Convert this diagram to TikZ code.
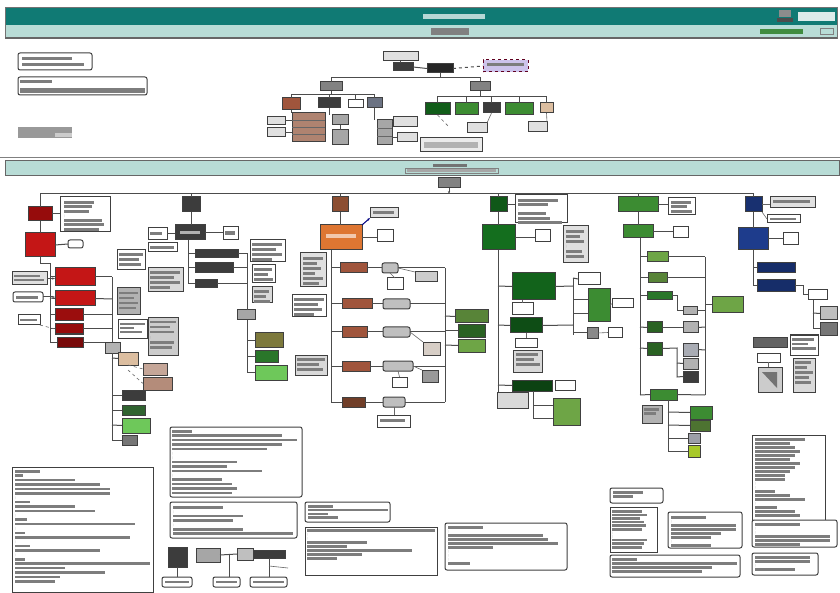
\documentclass[tikz,border=0pt]{standalone}
\usetikzlibrary{arrows.meta}
\definecolor{tealA}{RGB}{16,122,116}
\definecolor{tealB}{RGB}{184,220,214}
\definecolor{redA}{RGB}{196,22,22}
\definecolor{redB}{RGB}{150,12,12}
\definecolor{orangeA}{RGB}{222,118,50}
\definecolor{brownA}{RGB}{140,78,50}
\definecolor{brownB}{RGB}{160,85,60}
\definecolor{greenA}{RGB}{20,110,30}
\definecolor{greenB}{RGB}{60,140,50}
\definecolor{greenC}{RGB}{110,165,70}
\definecolor{greenL}{RGB}{110,200,90}
\definecolor{blueA}{RGB}{30,60,140}
\definecolor{purpA}{RGB}{205,195,235}
\definecolor{beigeA}{RGB}{220,190,160}
\definecolor{darkA}{RGB}{60,60,60}
\definecolor{grayA}{RGB}{130,130,130}
\definecolor{txtc}{RGB}{125,125,125}
\tikzset{
 bx/.style={draw=black!75, line width=1pt, fill=white, inner sep=0pt, outer sep=0pt, anchor=north west, rectangle},
 ln/.style={draw=black!70, line width=1pt},
 thin ln/.style={draw=black!60, line width=0.6pt},
 txt/.style={fill=txtc},
 rd/.style={rounded corners=2pt},
 gbox/.style={fill=black!45},
 lbox/.style={fill=black!12},
}
\newcommand\B[6]{\node[bx,#6,minimum width={(#4-(#2))*1pt},minimum height={(#5-(#3))*1pt}] (#1) at (#2,#3) {};}
\newcommand\Ls[5]{\foreach \w [count=\i from 0] in {#5}{\fill[txt] (#1,{#2+\i*#3}) rectangle ++(\w,#4);}}
\begin{document}
\begin{tikzpicture}[x=1pt,y=-1pt]
\useasboundingbox (0,0) rectangle (840,593);
\fill[white] (0,0) rectangle (840,593);
% ---------- header ----------
\fill[tealA] (5,7) rectangle (837,25);
\fill[tealB] (5,25) rectangle (837,38);
\draw[black!55,line width=0.8pt] (5,7) rectangle (837,38);
\draw[black!60,line width=1.3pt] (5,38) -- (837,38);
\fill[white!70!tealA] (423,14) rectangle (485,19);
\fill[black!45] (779,10) rectangle (791,17);
\fill[black!70] (777,18) rectangle (793,22);
\fill[white!85!tealA] (798,12) rectangle (835,21);
\fill[black!50] (431,28) rectangle (469,35);
\fill[green!40!black!75] (760,29) rectangle (803,34);
\draw[black!50] (820,28) rectangle (833,34);
% ---------- top-left notes ----------
\B{tla}{18}{53}{92}{70}{rd}
\Ls{22}{57}{6}{3}{50,62}
\B{tlb}{18}{77}{147}{95}{rd}
\fill[txtc] (20,80) rectangle (52,83);
\fill[txtc] (20,88) rectangle (145,93);
\fill[black!40] (18,127) rectangle (72,138);
\fill[black!20] (55,133) rectangle (72,137);
% ---------- top tree ----------
\B{t0}{383}{52}{418}{61}{lbox}
\B{t1}{393}{63}{413}{71}{fill=darkA}
\B{t2}{427}{64}{453}{73}{fill=black!85}
\B{t3}{483}{60}{528}{72}{fill=purpA,dashed,draw=purple!50!black}
\fill[txtc] (487,63) rectangle (524,66);
\draw[ln] (t0.south) -- (t0.south |- t1.north);
\draw[ln] (t1.east) -- (t2.west);
\draw[ln,dashed] (t2.east) -- (t3.west);
\coordinate (th) at (0,78);
\B{tA}{320}{82}{342}{91}{fill=grayA}
\B{tB}{470}{82}{490}{91}{fill=grayA}
\draw[ln] (t2.south) -- (t2.south |- th);
\draw[ln] (tA.north) -- (tA.north |- th) -- (tB.north |- th) -- (tB.north);
\B{tC}{282}{98}{300}{110}{fill=brownB}
\B{tD}{318}{98}{340}{108}{fill=darkA}
\B{tE}{348}{100}{363}{108}{}
\B{tF}{367}{98}{382}{108}{fill=blueA!35!black!60}
\coordinate (tl) at (0,95);
\draw[ln] (tC.north) -- (tC.north |- tl) -- (tF.north |- tl) -- (tF.north);
\draw[ln] (tA.south) -- (tA.south |- tl);
\draw[ln] (tD.north) -- (tD.north |- tl);
\draw[ln] (tE.north) -- (tE.north |- tl);
\B{tG}{267}{117}{285}{125}{lbox}
\B{tH}{267}{128}{285}{137}{lbox}
\B{tI}{292}{113}{325}{142}{fill=brownA!70}
\draw[black!60] (292,120) -- (325,120) (292,127) -- (325,127) (292,134) -- (325,134);
\B{tJ}{332}{115}{348}{125}{fill=black!35}
\B{tK}{332}{130}{348}{145}{fill=black!35}
\B{tL}{377}{120}{392}{145}{fill=black!35}
\draw[black!60] (377,128) -- (392,128) (377,136) -- (392,136);
\B{tM}{393}{117}{417}{127}{lbox}
\B{tN}{397}{133}{417}{142}{lbox}
\draw[ln] (tC.south) -- (tC.south |- tI.north);
\draw[ln] (tG.east) -- (tI.west |- tG.east);
\draw[ln] (tH.east) -- (tI.west |- tH.east);
\draw[ln] (tD.south) -- (tD.south |- tJ.north);
\draw[ln] (tJ.south) -- (tK.north);
\draw[ln] (tF.south) -- (tF.south |- tL.north);
\draw[ln] (tL.east |- tM.west) -- (tM.west);
\draw[ln] (tL.east |- tN.west) -- (tN.west);
% right subtree
\B{tO}{425}{103}{450}{115}{fill=greenA!85!black}
\B{tP}{455}{103}{478}{115}{fill=greenB}
\B{tQ}{483}{103}{500}{113}{fill=darkA}
\B{tR}{505}{103}{533}{115}{fill=greenB}
\B{tS}{540}{103}{553}{113}{fill=beigeA}
\coordinate (tr) at (0,97);
\draw[ln] (tO.north) -- (tO.north |- tr) -- (tS.north |- tr) -- (tS.north);
\draw[ln] (tB.south) -- (tB.south |- tr);
\draw[ln] (tP.north) -- (tP.north |- tr);
\draw[ln] (tQ.north) -- (tQ.north |- tr);
\draw[ln] (tR.north) -- (tR.north |- tr);
\B{tT}{467}{123}{487}{133}{lbox}
\B{tU}{528}{122}{547}{132}{lbox}
\B{tV}{420}{138}{482}{152}{fill=black!8}
\fill[black!30] (424,142) rectangle (478,148);
\coordinate (tw) at (449,127);
\draw[thin ln,dashed] (tO.south) -- (tw);
\draw[thin ln] (tQ.south) -- (tT.north east);
\draw[thin ln] (tS.south) -- (tU.north east);
% ---------- middle band ----------
\draw[black!50,line width=0.8pt] (0,157) -- (840,157);
\fill[tealB] (5,161) rectangle (839,176);
\draw[black!60,line width=1pt] (5,161) rectangle (839,176);
\fill[black!55] (433,164) rectangle (467,167);
\draw[black!50] (405,168) rectangle (498,173);
\fill[black!35] (407,169) rectangle (496,172);
\B{root}{438}{178}{460}{188}{fill=grayA}
\coordinate (ml) at (0,194);
\draw[ln,-{Stealth[length=3pt]}] (root.south) -- (root.south |- ml);
% ---------- column 1 (red) ----------
\B{c1a}{28}{207}{52}{221}{fill=redB}
\B{c1n}{60}{197}{110}{232}{}
\Ls{64}{201}{4.5}{2.6}{30,28,25,0,38,40,35}
\B{c1b}{25}{233}{55}{257}{fill=redA}
\B{c1s}{68}{240}{83}{248}{rd}
\draw[ln] (c1a.east) -- (c1n.west |- c1a.east);
\draw[ln] (c1a.south) -- (c1b.north);
\draw[ln] (c1b.east) -- (c1s.west);
\B{c1c}{55}{268}{95}{286}{fill=redA}
\B{c1d}{55}{291}{95}{306}{fill=redA}
\B{c1e}{55}{309}{83}{321}{fill=redB!90!redA}
\B{c1f}{55}{324}{83}{334}{fill=redB}
\B{c1g}{57}{337}{83}{347}{fill=redB!80!black}
\draw[ln] (c1b.south) -- (40,264) -- (50,264) -- (50,342) -- (c1g.west);
\draw[ln] (50,277) -- (c1c.west);
\draw[ln] (50,298) -- (c1d.west);
\draw[ln] (50,315) -- (c1e.west);
\draw[ln] (50,329) -- (c1f.west);
\B{c1h}{12}{272}{47}{285}{lbox}
\Ls{14}{275}{4}{2.5}{26,30}
\B{c1i}{13}{292}{43}{302}{rd}
\fill[txtc] (16,296) rectangle (38,299);
\B{c1j}{18}{315}{40}{325}{}
\fill[txtc] (20,319) rectangle (37,321);
\draw[ln,-{Stealth[length=3pt]}] (c1h.east) -- (c1c.west |- c1h.east);
\draw[ln,-{Stealth[length=3pt]}] (c1i.east) -- (c1d.west |- c1i.east);
\draw[thin ln,dashed] (c1j.south east) -- (c1f.west);
\draw[ln] (c1c.east) -- (112,277);
\draw[ln] (c1d.east) -- (112,299);
\draw[ln] (c1e.east) -- (112,315);
\draw[ln] (c1f.east) -- (112,329);
\draw[ln] (c1g.east) -- (112,342);
\draw[ln] (112,277) -- (112,342);
\B{c1k}{105}{342}{120}{353}{fill=black!30}
\B{c1l}{117}{288}{140}{315}{fill=black!30}
\Ls{119}{292}{5}{2.5}{19,15,19,17}
\B{c1m}{118}{320}{147}{338}{}
\Ls{120}{323}{4}{2.5}{25,14,22}
\B{c1o}{148}{318}{178}{355}{fill=black!20}
\Ls{150}{321}{5}{2.5}{26,20,24,0,24,22}
\B{c1q}{118}{352}{138}{365}{fill=beigeA}
\B{c1r}{143}{363}{167}{375}{fill=brownA!50}
\B{c1u1}{143}{377}{172}{390}{fill=brownA!65}
\B{c1t}{122}{390}{145}{400}{fill=darkA}
\B{c1u}{122}{405}{145}{415}{fill=darkA!80!green}
\B{c1v}{122}{418}{150}{433}{fill=greenL}
\B{c1w}{122}{435}{137}{445}{fill=darkA!70}
\draw[ln] (c1k.south -| 112,0) -- (112,440);
\draw[ln] (112,358) -- (c1q.west);
\draw[ln] (112,395) -- (c1t.west);
\draw[ln] (112,410) -- (c1u.west);
\draw[ln] (112,425) -- (c1v.west);
\draw[ln] (112,440) -- (c1w.west);
\draw[thin ln,dashed] (c1q.south) -- (c1r.west);
\draw[thin ln,dashed] (128,370) -- (c1u1.west);
% ---------- column 2 (gray) ----------
\B{c2a}{182}{197}{200}{212}{fill=darkA}
\B{c2b}{175}{225}{205}{240}{fill=darkA}
\fill[black!30] (180,231) rectangle (200,234);
\B{c2n1}{148}{228}{167}{240}{}
\fill[txtc] (150,232) rectangle (162,235);
\B{c2n2}{223}{227}{238}{240}{}
\fill[txtc] (225,231) rectangle (235,235);
\draw[ln] (c2a.south) -- (c2a.south |- c2b.north);
\draw[ln] (c2n1.east) -- (c2b.west |- c2n1.east);
\draw[ln] (c2b.east) -- (c2n2.west |- c2b.east);
\B{c2c}{148}{243}{177}{252}{}
\fill[txtc] (150,246) rectangle (174,249);
\B{c2d}{117}{250}{145}{270}{}
\Ls{119}{253}{5}{2.6}{24,20,22}
\B{c2e}{148}{268}{183}{292}{fill=black!15}
\Ls{150}{271}{5}{2.6}{30,24,30,20}
\B{c2f}{195}{250}{238}{258}{fill=darkA}
\B{c2g}{195}{263}{233}{273}{fill=darkA}
\B{c2h}{195}{280}{217}{288}{fill=darkA}
\draw[ln] (188,240) -- (188,284) -- (c2h.west);
\draw[ln] (188,254) -- (c2f.west);
\draw[ln] (188,268) -- (c2g.west);
\B{c2j}{250}{240}{285}{262}{}
\Ls{252}{243}{5}{2.6}{30,24,30,20}
\B{c2k}{252}{265}{275}{283}{}
\Ls{254}{268}{5}{2.6}{18,14,19}
\B{c2l}{252}{287}{272}{303}{fill=black!15}
\Ls{254}{290}{5}{2.6}{15,12,16}
\B{c2i}{237}{310}{255}{320}{fill=black!35}
\draw[ln] (c2f.east) -- (247,254) -- (c2i.north -| 247,0);
\draw[ln] (c2g.east) -- (247,268);
\draw[ln] (c2h.east) -- (247,284);
\B{c2m}{255}{333}{283}{347}{fill=greenC!50!brownA}
\B{c2o}{255}{350}{278}{362}{fill=darkA!70!green}
\B{c2p}{255}{365}{287}{380}{fill=greenL}
\draw[ln] (c2i.south -| 247,0) -- (247,372) -- (c2p.west |- 0,372);
\draw[ln] (247,340) -- (c2m.west);
\draw[ln] (247,356) -- (c2o.west);
% ---------- column 3 (orange) ----------
\B{c3a}{332}{197}{348}{212}{fill=brownA}
\B{c3b}{320}{225}{362}{250}{fill=orangeA}
\fill[white!60!orangeA] (326,234) rectangle (356,238);
\draw[ln] (c3a.south) -- (c3a.south |- c3b.north);
\B{c3n}{370}{208}{398}{218}{lbox}
\fill[txtc] (373,211) rectangle (394,214);
\draw[ln,-{Stealth[length=3pt]},blue!50!black] (c3b.north east) -- (c3n.south west);
\B{c3s}{377}{230}{393}{242}{}
\draw[ln] (c3b.east) -- (c3s.west |- c3b.east);
\B{c3g1}{300}{253}{326}{287}{fill=black!12}
\Ls{303}{257}{5}{2.6}{20,14,18,12,20,16}
\B{c3g2}{292}{295}{326}{317}{}
\Ls{294}{298}{5}{2.6}{30,24,28,20}
\B{c3g3}{295}{355}{327}{375}{fill=black!15}
\Ls{297}{358}{5}{2.6}{28,22,26}
\draw[ln] (331,250) -- (331,402);
\foreach \yy/\na/\nb/\xa/\xb/\xc/\xd/\ca in {268/c3c/c3d/340/367/382/398/brownB, 304/c3h/c3i/342/372/383/410/brownB, 332/c3j/c3k/342/367/383/410/brownB, 366/c3m/c3o/342/370/383/413/brownB, 402/c3r/c3s2/342/365/383/405/brownA!80!black}{
  \B{\na}{\xa}{\yy-5}{\xb}{\yy+5}{fill=\ca}
  \B{\nb}{\xc}{\yy-5}{\xd}{\yy+5}{fill=black!25,rd}
  \draw[ln] (331,\yy) -- (\na.west);
  \draw[ln] (\na.east) -- (\nb.west);
  \draw[ln] (\nb.east) -- (445,\yy);
}
\draw[ln] (445,268) -- (445,402);
\B{c3e}{415}{272}{437}{282}{fill=black!20}
\B{c3f}{387}{278}{403}{290}{}
\B{c3l}{423}{342}{440}{355}{fill=beigeA!70!black!40}
\B{c3p}{392}{377}{407}{387}{}
\B{c3q}{422}{370}{438}{382}{fill=black!40}
\B{c3t}{377}{415}{410}{427}{}
\fill[txtc] (380,419) rectangle (405,422);
\draw[thin ln] (c3d.east) -- (c3e.north west);
\draw[thin ln] (c3f.north) -- (c3d.south);
\draw[thin ln] (c3k.east) -- (c3l.north west);
\draw[thin ln] (c3o.east) -- (c3q.north west);
\draw[thin ln] (c3p.north) -- (c3o.south);
\draw[thin ln] (c3s2.south) -- (c3t.north -| c3s2.south);
\B{c3u}{455}{310}{488}{323}{fill=greenC!80!black}
\B{c3v}{458}{325}{485}{337}{fill=greenB!70!black}
\B{c3w}{458}{339}{485}{352}{fill=greenC}
\draw[ln] (445,316) -- (c3u.west);
\draw[ln] (445,331) -- (c3v.west);
\draw[ln] (445,345) -- (c3w.west);
% ---------- column 4 (green) ----------
\B{c4a}{490}{197}{507}{212}{fill=greenA!80!black}
\B{c4n}{515}{195}{567}{223}{}
\Ls{518}{199}{4.5}{2.6}{40,30,0,28,32,44}
\draw[ln] (c4a.east) -- (c4n.west |- c4a.east);
\B{c4b}{482}{225}{515}{250}{fill=greenA}
\draw[ln] (c4a.south) -- (c4a.south |- c4b.north);
\B{c4s}{535}{230}{550}{242}{}
\draw[ln] (c4b.east) -- (c4s.west |- c4b.east);
\B{c4g}{563}{226}{588}{263}{fill=black!12}
\Ls{566}{230}{5}{2.6}{18,14,18,0,16,18}
\draw[ln] (498,250) -- (498,395);
\B{c4c}{512}{273}{555}{300}{fill=greenA!90!black}
\B{c4cn}{512}{303}{533}{315}{}
\B{c4d}{510}{318}{542}{333}{fill=greenA!70!black}
\B{c4dn}{515}{338}{537}{347}{}
\B{c4dg}{513}{350}{542}{372}{fill=black!15}
\Ls{516}{353}{5}{2.6}{22,18,24}
\B{c4e}{512}{380}{552}{391}{fill=greenA!60!black}
\B{c4en}{555}{380}{575}{390}{}
\B{c4f}{497}{392}{528}{408}{fill=black!15}
\B{c4h}{553}{398}{580}{425}{fill=greenC}
\draw[ln] (498,286) -- (c4c.west);
\draw[ln] (498,325) -- (c4d.west);
\draw[ln] (498,385) -- (c4e.west);
\draw[thin ln] (c4c.south -| c4cn.north) -- (c4cn.north);
\draw[thin ln] (c4d.south -| c4dn.north) -- (c4dn.north);
\draw[ln] (533,391) -- (533,418) -- (c4h.west |- 0,418);
\draw[ln] (533,405) -- (c4h.west |- 0,405);
\draw[ln] (c4c.east) -- (573,286);
\draw[ln] (c4d.east) -- (573,325);
\draw[ln] (573,278) -- (573,335);
\B{c4j}{578}{273}{600}{285}{}
\B{c4k}{588}{289}{610}{322}{fill=greenB}
\B{c4l}{587}{328}{598}{338}{fill=darkA!60}
\B{c4m}{608}{328}{622}{337}{}
\B{c4o}{612}{299}{633}{308}{}
\draw[ln] (573,278) -- (c4j.west);
\draw[ln] (573,300) -- (c4k.west |- 0,300);
\draw[ln] (573,314) -- (c4k.west |- 0,314);
\draw[ln] (573,333) -- (c4l.west);
\draw[thin ln] (c4k.east) -- (c4o.west);
\draw[thin ln] (c4l.east) -- (c4m.west);
% ---------- column 5 (light green) ----------
\B{c5a}{618}{197}{658}{212}{fill=greenB}
\B{c5n}{668}{198}{695}{215}{}
\Ls{671}{201}{4.5}{2.6}{20,16,21}
\draw[ln] (c5a.east) -- (c5n.west |- c5a.east);
\B{c5b}{623}{225}{653}{238}{fill=greenB}
\draw[ln] (c5a.south) -- (c5a.south |- c5b.north);
\B{c5s}{673}{227}{688}{238}{}
\draw[ln] (c5b.east) -- (c5s.west |- c5b.east);
\draw[ln] (640,238) -- (640,395);
\B{c5c}{647}{252}{668}{262}{fill=greenC}
\B{c5d}{648}{273}{667}{283}{fill=greenC!80!black}
\B{c5e}{647}{292}{672}{300}{fill=darkA!70!green}
\B{c5f}{647}{322}{662}{333}{fill=greenB!70!black}
\B{c5g}{647}{342}{662}{355}{fill=greenB!70!black}
\draw[ln] (640,257) -- (c5c.west);
\draw[ln] (640,278) -- (c5d.west);
\draw[ln] (640,296) -- (c5e.west);
\draw[ln] (640,327) -- (c5f.west);
\draw[ln] (640,348) -- (c5g.west);
\draw[ln] (c5c.east) -- (705,257);
\draw[ln] (c5d.east) -- (705,278);
\draw[ln] (705,257) -- (705,395);
\B{c5h}{683}{307}{697}{315}{fill=black!30}
\draw[ln] (c5e.east) -- (677,296) -- (677,311) -- (c5h.west);
\draw[ln] (c5h.east) -- (705,311);
\B{c5i}{712}{297}{743}{313}{fill=greenC}
\draw[ln] (705,305) -- (c5i.west |- 0,305);
\B{c5j}{683}{322}{698}{333}{fill=black!30}
\B{c5k}{683}{343}{698}{356}{fill=blueA!30!black!35}
\B{c5l}{683}{358}{698}{369}{fill=black!30}
\B{c5m}{683}{371}{698}{382}{fill=darkA}
\draw[ln] (c5f.east) -- (c5j.west |- c5f.east);
\draw[ln] (c5g.east) -- (677,348) -- (677,377) -- (c5m.west);
\draw[ln] (677,363) -- (c5l.west);
\draw[ln] (c5j.east) -- (705,327);
\draw[ln] (c5k.east) -- (705,350);
\B{c5o}{650}{389}{677}{400}{fill=greenB}
\draw[ln] (640,395) -- (c5o.west);
\draw[ln] (c5o.east) -- (705,395);
\B{c5p}{642}{405}{662}{423}{fill=black!30}
\Ls{644}{408}{4}{2.6}{15,12}
\draw[ln] (668,400) -- (668,451);
\B{c5q}{690}{406}{712}{419}{fill=greenB}
\B{c5r}{690}{420}{710}{431}{fill=greenC!70!black}
\B{c5t}{688}{433}{700}{443}{fill=blueA!25!black!40}
\B{c5u}{688}{445}{700}{457}{fill=greenC!60!yellow}
\draw[ln] (668,412) -- (c5q.west);
\draw[ln] (668,425) -- (c5r.west);
\draw[ln] (668,438) -- (c5t.west);
\draw[ln] (668,451) -- (c5u.west);
% ---------- column 6 (blue) ----------
\B{c6a}{745}{197}{762}{212}{fill=blueA!80!black}
\B{c6n}{770}{197}{815}{208}{lbox}
\fill[txtc] (773,200) rectangle (810,203);
\B{c6n2}{767}{215}{800}{223}{}
\fill[txtc] (770,218) rectangle (796,220);
\draw[thin ln] (c6a.east) -- (c6n.west |- c6a.east);
\draw[thin ln] (c6a.south east) -- (c6n2.west);
\B{c6b}{738}{228}{768}{250}{fill=blueA}
\draw[ln] (c6a.south) -- (c6a.south |- c6b.north);
\B{c6s}{783}{233}{798}{245}{}
\draw[ln] (c6b.east) -- (c6s.west |- c6b.east);
\B{c6c}{757}{263}{795}{273}{fill=blueA!75!black}
\B{c6d}{757}{280}{795}{292}{fill=blueA!75!black}
\draw[ln] (753,250) -- (753,286) -- (c6d.west);
\draw[ln] (753,268) -- (c6c.west);
\B{c6e}{808}{290}{827}{300}{}
\draw[ln] (c6d.east) -- (803,286) -- (803,295) -- (c6e.west);
\B{c6e1}{820}{307}{837}{320}{fill=black!25}
\B{c6e2}{820}{323}{837}{335}{fill=darkA!70}
\draw[ln] (813,300) -- (813,329) -- (c6e2.west);
\draw[ln] (813,313) -- (c6e1.west);
\B{c6f}{753}{337}{787}{347}{fill=darkA!80}
\B{c6g}{790}{335}{818}{355}{}
\Ls{792}{338}{4.5}{2.6}{22,16,24}
\B{c6h}{757}{353}{780}{362}{}
\B{c6i}{758}{367}{782}{392}{fill=black!20}
\B{c6j}{793}{358}{815}{392}{fill=black!15}
\Ls{795}{361}{5}{2.6}{16,12,18,14,16}
\draw[thin ln] (c6h.south) -- (c6i.north -| c6h.south);
\fill[black!55] (762,372) -- (777,372) -- (777,388) -- cycle;
% ---------- main bus ----------
\draw[ln] (c1a.north) -- (c1a.north |- ml) -- (c6a.north |- ml) -- (c6a.north);
\draw[ln] (c2a.north) -- (c2a.north |- ml);
\draw[ln] (c3a.north) -- (c3a.north |- ml);
\draw[ln] (c4a.north) -- (c4a.north |- ml);
\draw[ln] (c5a.north) -- (c5a.north |- ml);
% ---------- bottom notes ----------
\B{n1}{12}{467}{153}{592}{}
\Ls{15}{470}{4.4}{2.6}{25,8,60,85,95,95,0,15,60,80,0,12,120,0,10,115,0,15,85,0,10,135,50,90,45,40}
\B{n2}{170}{427}{302}{497}{rd}
\Ls{172}{430}{4.4}{2.6}{20,110,125,110,95,0,0,65,55,90,0,50,60,65,60}
\B{n3}{170}{502}{297}{538}{rd}
\Ls{173}{506}{4.4}{2.6}{50,0,70,60,0,70,120}
\B{n4}{305}{502}{390}{522}{rd}
\Ls{308}{505}{3.8}{2.6}{25,80,20,30}
\B{n5}{305}{527}{437}{575}{}
\Ls{307}{529}{4}{2.6}{128,0,0,60,40,105,55,30}
\B{n6}{445}{523}{567}{570}{rd}
\Ls{448}{526}{4}{2.6}{35,0,95,100,110,45,0,0,0,22}
% small diagram
\B{s1}{168}{547}{187}{567}{fill=darkA}
\B{s2}{196}{548}{220}{562}{fill=black!35}
\B{s3}{237}{548}{253}{560}{fill=black!25}
\B{s4}{253}{550}{285}{558}{fill=darkA}
\B{s5}{162}{577}{192}{587}{rd}
\B{s6}{213}{577}{240}{587}{rd}
\B{s7}{250}{577}{287}{587}{rd}
\fill[txtc] (165,581) rectangle (189,583);
\fill[txtc] (216,581) rectangle (237,583);
\fill[txtc] (253,581) rectangle (284,583);
\draw[ln] (s1.south) -- (s1.south |- s5.north);
\draw[ln] (s2.east) -- (s3.west);
\draw[ln] (229,555) -- (229,577);
\draw[ln] (s4.south) -- (s4.south |- s7.north);
\draw[thin ln] (269,566) -- (288,568);
% right bottom notes
\B{n7}{610}{488}{663}{503}{rd}
\Ls{613}{491}{4}{2.6}{30,20}
\B{n8}{610}{507}{657}{552}{}
\Ls{612}{510}{3.6}{2.6}{30,35,28,32,34,30,0,0,35,32,30}
\B{n9}{668}{512}{742}{548}{rd}
\Ls{671}{516}{4}{2.6}{35,0,65,65,50,40,0,40}
\B{n10}{610}{555}{740}{577}{rd}
\Ls{612}{558}{4}{2.6}{25,125,100,90}
\B{n11}{752}{435}{825}{520}{}
\Ls{755}{438}{4}{2.6}{50,35,40,45,40,35,45,40,35,30,30,0,0,20,35,50,0,22,40,45}
\B{n12}{752}{520}{837}{547}{rd}
\Ls{755}{523}{4}{2.6}{45,0,0,75,75,45}
\B{n13}{752}{553}{818}{575}{rd}
\Ls{755}{556}{4}{2.6}{55,55,0,40}
\end{tikzpicture}
\end{document}
